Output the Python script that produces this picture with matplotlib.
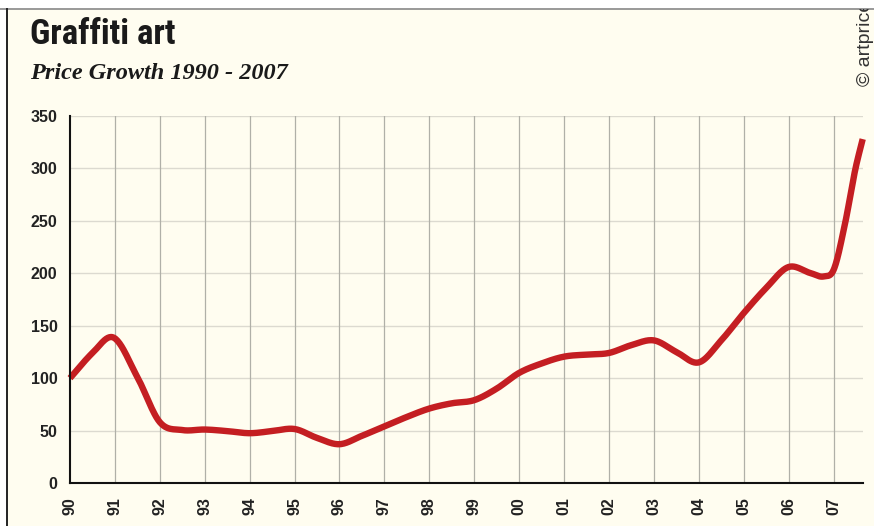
import numpy as np
import matplotlib
matplotlib.use("Agg")
import matplotlib.pyplot as plt
from matplotlib.patches import Rectangle

# values (year, price index)
years = [1990.0, 1990.5, 1990.95, 1991.5, 1992.0, 1992.5, 1993.0, 1993.5,
         1994.0, 1994.5, 1995.0, 1995.5, 1996.0, 1996.5, 1997.0, 1997.5, 1998.0,
         1998.5, 1999.0, 1999.5, 2000.0, 2000.5, 2001.0, 2001.5, 2002.0, 2002.5,
         2003.0, 2003.5, 2004.0, 2004.5, 2005.0, 2005.5, 2006.0, 2006.5, 2006.78,
         2007.0, 2007.25, 2007.5, 2007.65]
values = [100, 124, 139, 101, 58, 50.5, 51, 49.5,
          47.5, 49.5, 51.5, 43, 37, 45, 54, 63, 71,
          76, 79, 90, 105, 114, 120.5, 122.5, 124, 131.5,
          136, 125, 115, 136, 162, 186, 206, 200, 197,
          203, 246, 302, 328]
tick_years = list(range(1990, 2008))
tick_labels = ["%02d" % (y % 100) for y in tick_years]
y_ticks = [0, 50, 100, 150, 200, 250, 300, 350]

BG = "#FFFDF0"
RED = "#C41E22"


def smooth(x, y, n=25):
    # cubic hermite through the read points, for drawing only
    x = np.asarray(x, float)
    y = np.asarray(y, float)
    m = np.gradient(y, x)
    xs, ys = [], []
    t = np.linspace(0, 1, n, endpoint=False)
    for i in range(len(x) - 1):
        h = x[i + 1] - x[i]
        h00 = 2 * t ** 3 - 3 * t ** 2 + 1
        h10 = t ** 3 - 2 * t ** 2 + t
        h01 = -2 * t ** 3 + 3 * t ** 2
        h11 = t ** 3 - t ** 2
        xs.append(x[i] + t * h)
        ys.append(h00 * y[i] + h10 * h * m[i] + h01 * y[i + 1] + h11 * h * m[i + 1])
    xs.append([x[-1]])
    ys.append([y[-1]])
    return np.concatenate(xs), np.concatenate(ys)


fig = plt.figure(figsize=(8.74, 5.26), dpi=100)
fig.patch.set_facecolor("white")

# cream panel with frame
panel = Rectangle((7 / 874, 0), 1, 1 - 9 / 526, transform=fig.transFigure,
                  facecolor=BG, edgecolor="none", zorder=-5)
fig.patches.append(panel)
fig.add_artist(plt.Line2D([0, 1], [1 - 8.5 / 526] * 2, transform=fig.transFigure,
                          color="#888888", lw=1.2, zorder=-4))
fig.add_artist(plt.Line2D([6.5 / 874] * 2, [0, 1 - 8.5 / 526], transform=fig.transFigure,
                          color="#222222", lw=1.4, zorder=-4))

ax = fig.add_axes([70 / 874, 1 - 483 / 526, (862.7 - 70) / 874, (483 - 116) / 526])
ax.set_facecolor(BG)

sx, sy = smooth(years, values)
ax.plot(sx, sy, color=RED, lw=4.6, solid_capstyle="butt", zorder=3, clip_on=False)

ax.set_xlim(1990, 2007.65)
ax.set_ylim(0, 350)
ax.set_xticks(tick_years)
ax.set_xticklabels(tick_labels, rotation=90, fontsize=11.5, fontweight="bold",
                   family="Liberation Sans", color="#222222")
ax.set_yticks(y_ticks)
ax.set_yticklabels([str(v) for v in y_ticks], fontsize=11.5, fontweight="bold",
                   family="Liberation Sans", color="#222222")
ax.tick_params(axis="both", length=0)
ax.tick_params(axis="x", pad=10)
ax.tick_params(axis="y", pad=9)

for v in y_ticks[1:]:
    ax.axhline(v, color="#DCDAD0", lw=1, zorder=1)
for yr in tick_years[1:]:
    ax.axvline(yr, color="#B0B0A8", lw=0.9, zorder=1)

for s in ["top", "right"]:
    ax.spines[s].set_visible(False)
for s in ["left", "bottom"]:
    ax.spines[s].set_color("#111111")
    ax.spines[s].set_linewidth(1.5)
    ax.spines[s].set_zorder(4)

fig.text(30 / 874, 1 - 44 / 526, "Graffiti art", fontsize=25, fontweight="bold",
         family=["Liberation Sans Narrow", "Roboto Condensed", "Liberation Sans"],
         color="#1a1a1a", va="baseline")
fig.text(30 / 874, 1 - 79 / 526, "Price Growth 1990 - 2007", fontsize=17.5,
         fontweight="bold", style="italic", family="Liberation Serif",
         color="#1a1a1a", va="baseline")
cr = fig.text(874 / 874, 1 - 86 / 526, "\u00a9 artprice", fontsize=14, rotation=90,
              family="Liberation Sans", color="#333333", ha="right", va="bottom")
cr.set_clip_path(panel)

fig.savefig("out.png", dpi=100, facecolor=fig.get_facecolor())
